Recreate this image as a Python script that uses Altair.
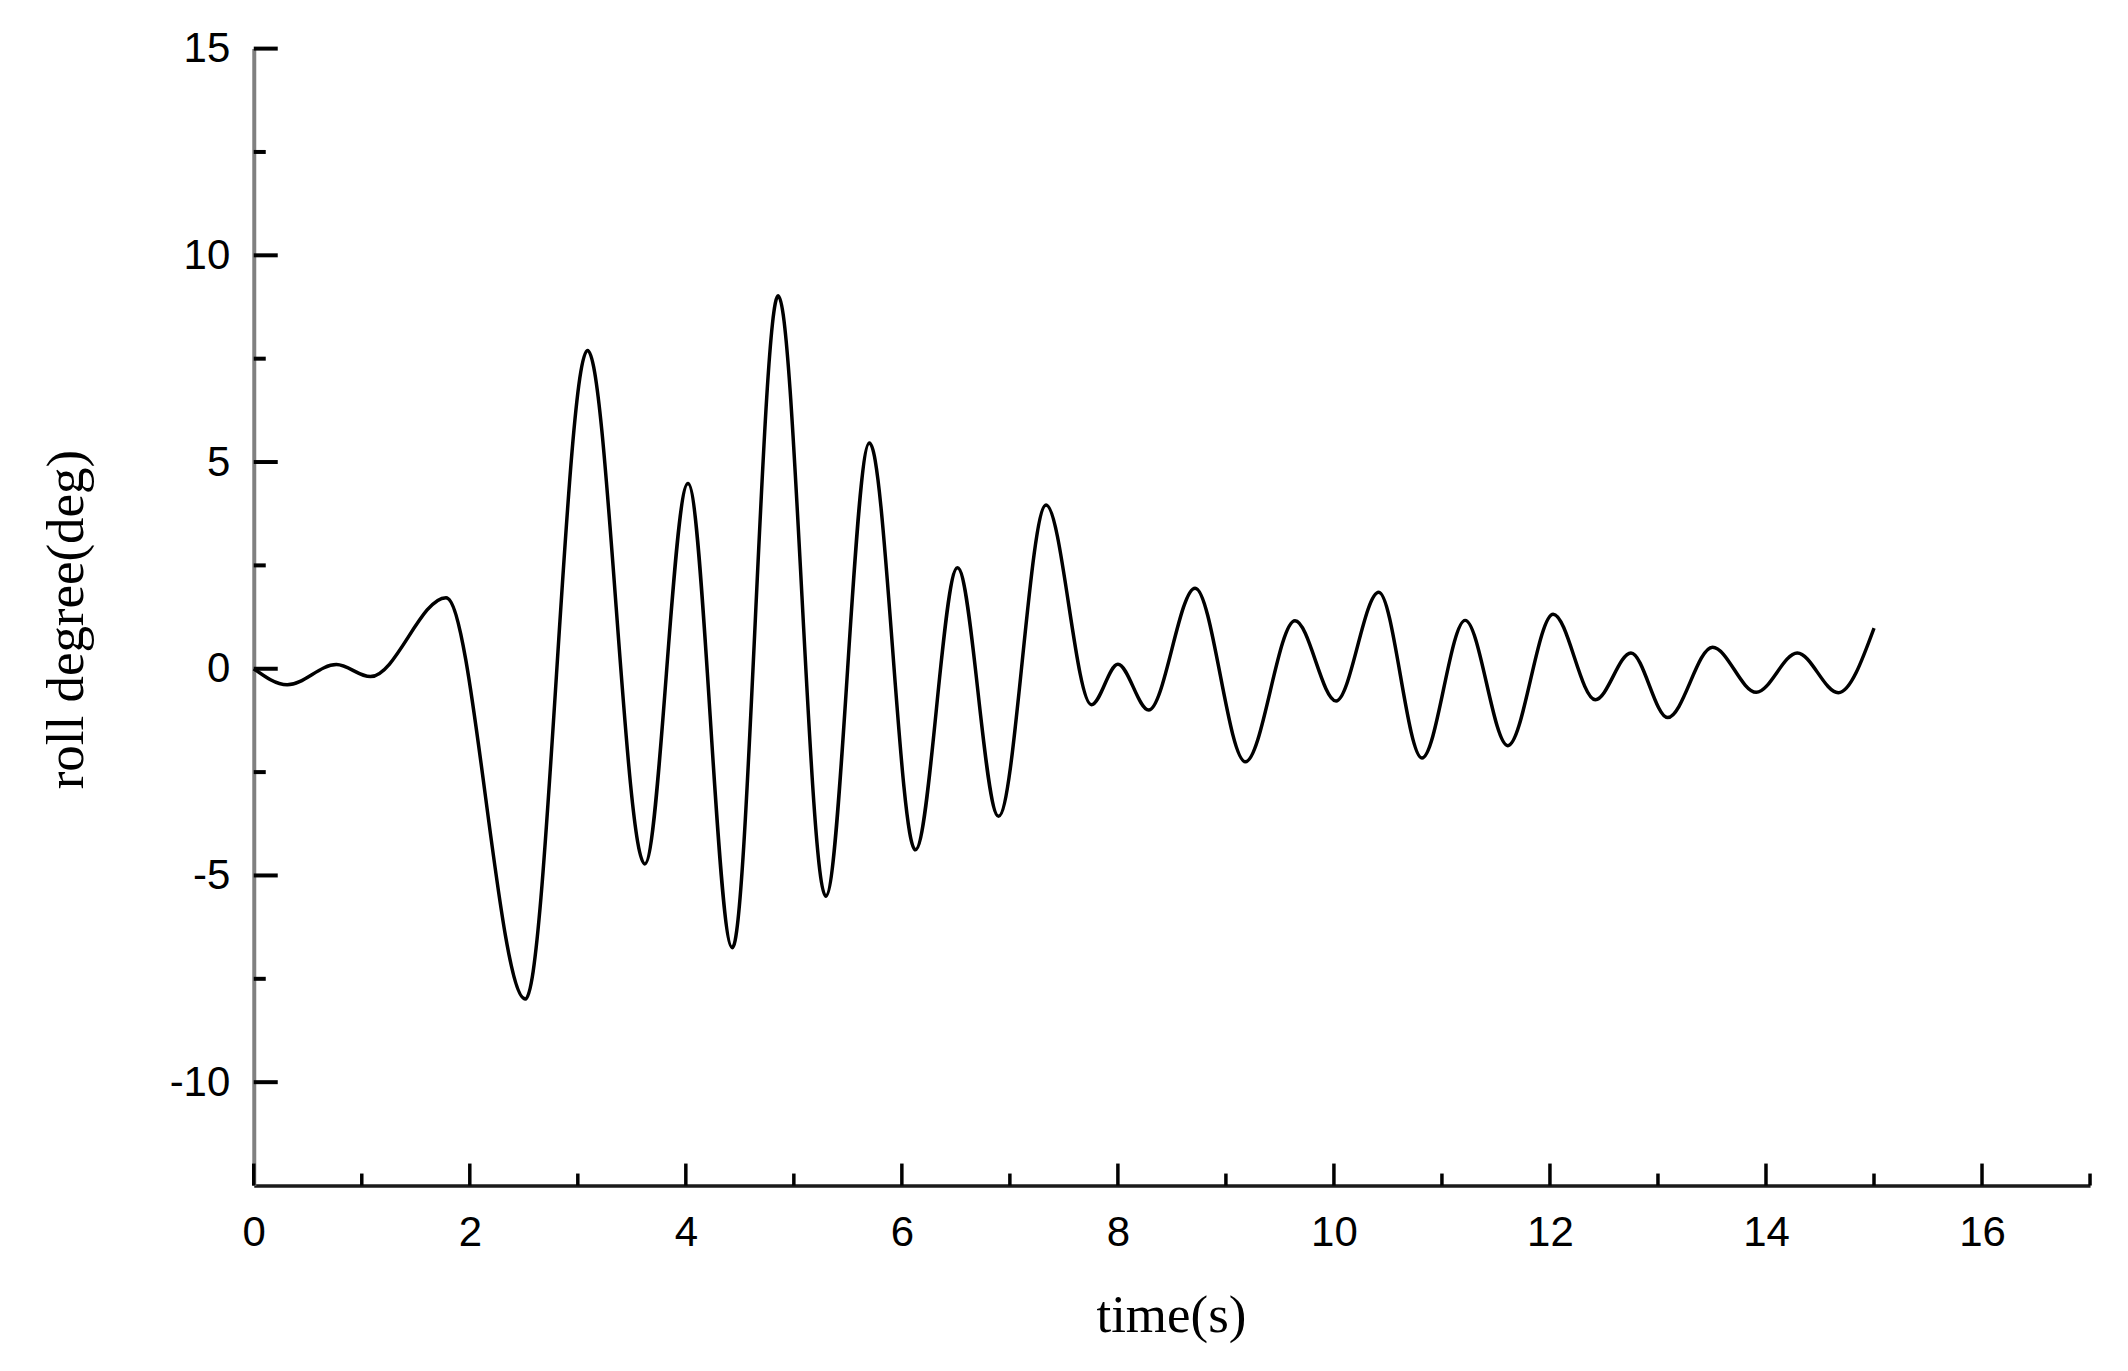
import altair as alt
import pandas as pd

# Extrema (time in s, roll in deg)
time_s = [0.0, 0.31, 0.765, 1.08, 1.78, 2.515, 3.09, 3.62, 4.02, 4.43,
          4.855, 5.295, 5.70, 6.125, 6.515, 6.895, 7.335, 7.755, 8.0, 8.285,
          8.715, 9.18, 9.64, 10.02, 10.415, 10.815, 11.215, 11.61, 12.03, 12.42,
          12.75, 13.09, 13.505, 13.91, 14.29, 14.67, 15.0]
roll_deg = [0.0, -0.39, 0.10, -0.19, 1.72, -7.99, 7.70, -4.72, 4.48, -6.75,
            9.02, -5.50, 5.46, -4.38, 2.44, -3.57, 3.96, -0.87, 0.11, -1.0,
            1.95, -2.25, 1.16, -0.78, 1.85, -2.16, 1.17, -1.86, 1.32, -0.75,
            0.38, -1.18, 0.52, -0.57, 0.38, -0.58, 0.98]

x_major = [0, 2, 4, 6, 8, 10, 12, 14, 16]
x_minor = [1, 3, 5, 7, 9, 11, 13, 15, 17]
y_major = [-10, -5, 0, 5, 10, 15]
y_minor = [-7.5, -2.5, 2.5, 7.5, 12.5]

W, H = 1838, 1138

df = pd.DataFrame({"t": time_s, "v": roll_deg})
xs = alt.Scale(domain=[0, 17], nice=False, zero=False)
ys = alt.Scale(domain=[-12.5, 15], nice=False, zero=False)

x_axis = alt.Axis(
    values=x_major, title="time(s)", ticks=False, grid=False,
    labelExpr="'' + datum.value",
    labelFont="Liberation Sans", labelFontSize=42, labelColor="black",
    labelPadding=27, labelFlush=False, labelOverlap=False,
    domainColor="#1a1a1a", domainWidth=3.5,
    titleFont="Liberation Serif", titleFontSize=53, titleFontWeight="normal",
    titleColor="black", titleX=918, titleY=146, titleBaseline="alphabetic",
    titleAlign="center")
y_axis = alt.Axis(
    values=y_major, title="roll degree(deg)", ticks=False, grid=False,
    labelExpr="'' + datum.value",
    labelFont="Liberation Sans", labelFontSize=42, labelColor="black",
    labelPadding=24, labelOverlap=False,
    domainColor="#808080", domainWidth=4,
    titleFont="Liberation Serif", titleFontSize=53, titleFontWeight="normal",
    titleColor="black", titleAngle=270, titleX=-171, titleY=571,
    titleBaseline="alphabetic", titleAlign="center")

line = alt.Chart(df).mark_line(color="black", strokeWidth=3.5, interpolate="monotone").encode(
    x=alt.X("t:Q", scale=xs, axis=x_axis),
    y=alt.Y("v:Q", scale=ys, axis=y_axis),
)

def xticks(vals, length):
    return alt.Chart(pd.DataFrame({"t": vals})).mark_rule(color="black", strokeWidth=3.5).encode(
        x=alt.X("t:Q", scale=xs, axis=x_axis),
        y=alt.value(H), y2=alt.value(H - length))

def yticks(vals, length):
    return alt.Chart(pd.DataFrame({"v": vals})).mark_rule(color="black", strokeWidth=4).encode(
        y=alt.Y("v:Q", scale=ys, axis=y_axis),
        x=alt.value(0), x2=alt.value(length))

chart = alt.layer(
    line,
    xticks(x_major, 22), xticks(x_minor, 12),
    yticks(y_major, 24), yticks(y_minor, 12),
).properties(
    width=W, height=H,
    autosize=alt.AutoSizeParams(type="none"),
    padding={"left": 246, "top": 40, "right": 30, "bottom": 180},
    background="white",
).configure_view(stroke=None)

chart.save("out.html", embed_options={"renderer": "svg", "actions": False})
